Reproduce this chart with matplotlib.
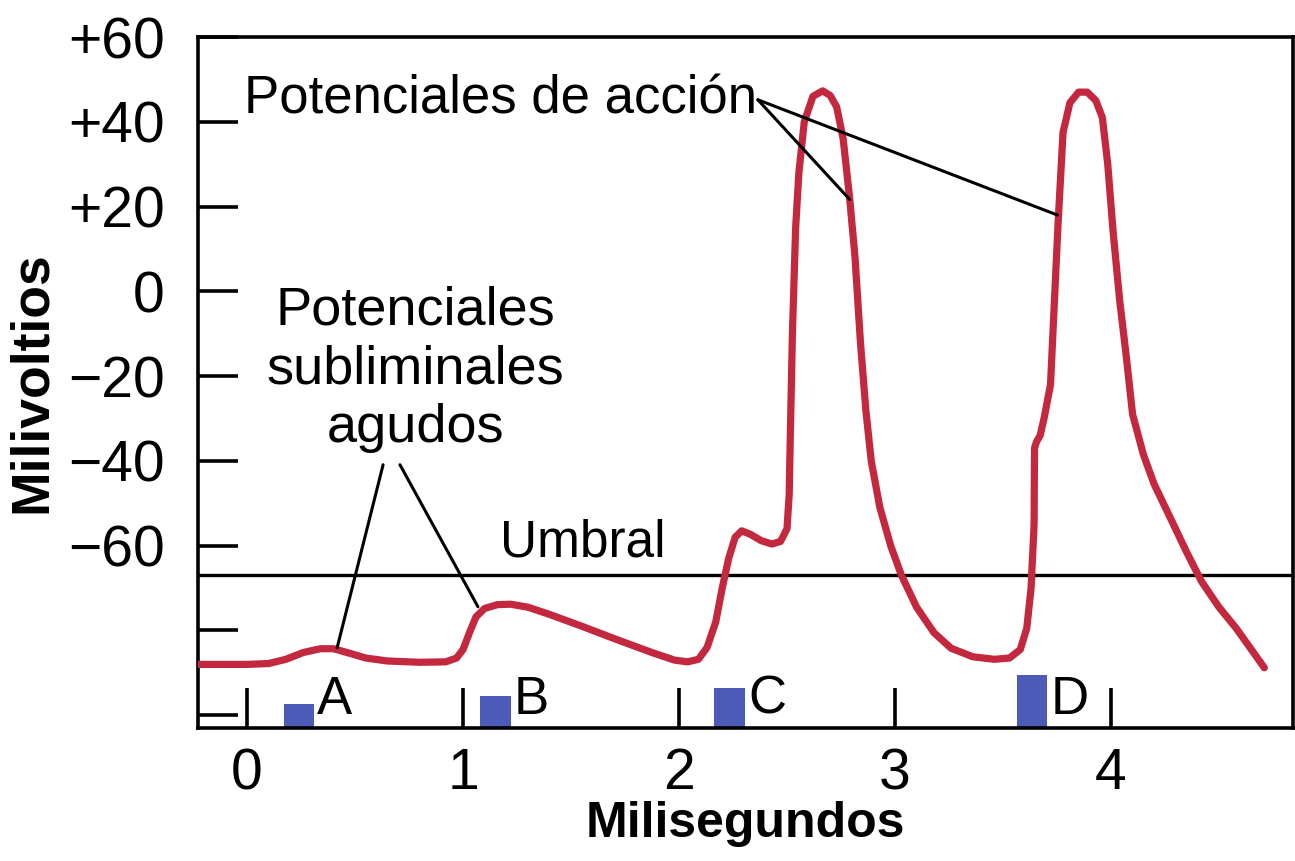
import matplotlib
matplotlib.use('Agg')
import matplotlib.pyplot as plt

# membrane potential trace (ms, mV)
t_ms = [-0.23, 0.00, 0.10, 0.18, 0.26, 0.34, 0.40, 0.47, 0.55, 0.65, 0.80,
        0.92, 0.97, 1.00, 1.03, 1.06, 1.10, 1.16, 1.22, 1.30, 1.40, 1.55,
        1.72, 1.88, 1.98, 2.04, 2.09, 2.13, 2.17, 2.20, 2.23, 2.26, 2.29,
        2.33, 2.38, 2.43, 2.47, 2.50, 2.51, 2.515, 2.525, 2.54, 2.555, 2.58,
        2.62, 2.665, 2.70, 2.73, 2.76, 2.79, 2.815, 2.84, 2.865, 2.89, 2.93,
        2.98, 3.03, 3.10, 3.18, 3.26, 3.36, 3.46, 3.53, 3.58, 3.61, 3.63,
        3.644, 3.646, 3.655, 3.672, 3.69, 3.72, 3.755, 3.778, 3.81, 3.85,
        3.89, 3.93, 3.96, 3.985, 4.01, 4.04, 4.07, 4.10, 4.15, 4.20, 4.28,
        4.35, 4.42, 4.50, 4.58, 4.65, 4.71]
v_mv = [-88.0, -88.0, -87.8, -86.8, -85.2, -84.3, -84.3, -85.3, -86.5, -87.2,
        -87.5, -87.4, -86.5, -84.5, -80.5, -76.8, -74.8, -73.9, -73.8, -74.5,
        -76.2, -79.0, -82.3, -85.3, -87.0, -87.4, -86.8, -84.0, -78.0, -70.0,
        -63.0, -58.0, -56.5, -57.3, -58.8, -59.6, -59.0, -56.0, -48.0, -35.0,
        -10.0, 15.0, 28.0, 40.0, 46.0, 47.3, 46.2, 43.5, 36.0, 22.0, 8.0,
        -12.0, -28.0, -40.0, -51.0, -60.0, -67.0, -74.5, -80.5, -84.2, -86.2,
        -86.8, -86.5, -84.5, -79.5, -70.0, -55.0, -37.0, -35.5, -34.0, -30.0,
        -22.0, 16.0, 37.5, 44.5, 47.0, 47.0, 45.0, 41.0, 30.0, 14.0, -2.0,
        -15.0, -29.0, -38.5, -45.5, -54.0, -61.5, -68.5, -74.5, -79.5, -84.5,
        -88.8]

THRESHOLD = -67.0

# stimuli A-D: start (ms), width (ms), top of bar (mV)
stim_names = ['A', 'B', 'C', 'D']
stim_start = [0.17, 1.08, 2.16, 3.565]
stim_width = [0.14, 0.14, 0.145, 0.14]
stim_top = [-97.4, -95.5, -93.5, -90.4]

yticks = [60, 40, 20, 0, -20, -40, -60, -80, -100]
ytick_labels = ['+60', '+40', '+20', '0', '\u221220', '\u221240', '\u221260', '', '']
xticks = [0, 1, 2, 3, 4]

XLIM = (-0.227, 4.843)
YLIM = (-103.0, 60.0)

RED = '#C3283F'
BLUE = '#4C5BB8'
FONT = 'Liberation Sans'


def main():
  plt.rcParams['font.family'] = [FONT, 'DejaVu Sans']
  fig = plt.figure(figsize=(12.95, 8.61), dpi=100)
  ax = fig.add_axes([0.1529, 0.1545, 0.8456, 0.8025])
  ax.set_xlim(*XLIM); ax.set_ylim(*YLIM)

  ax.axhline(THRESHOLD, color='black', lw=2.4, zorder=2)
  ax.plot(t_ms, v_mv, color=RED, lw=5.2, solid_joinstyle='round',
          solid_capstyle='round', zorder=3)

  for name, s, w, top in zip(stim_names, stim_start, stim_width, stim_top):
    ax.bar(s, top - YLIM[0], width=w, bottom=YLIM[0], align='edge',
           color=BLUE, lw=0, zorder=2)
    ax.text(s + w + 0.015, -99.6, name, fontsize=38, va='baseline', ha='left')

  ax.set_yticks(yticks, ytick_labels)
  ax.set_xticks(xticks, [str(x) for x in xticks])
  ax.tick_params(direction='in', length=29, width=2.6, labelsize=41)
  ax.tick_params(axis='y', pad=24)
  ax.tick_params(axis='x', pad=14)
  for sp in ax.spines.values():
    sp.set_linewidth(2.6)

  ax.set_xlabel('Milisegundos', fontsize=36, fontweight='bold', labelpad=0)
  ax.set_ylabel('Milivoltios', fontsize=38.5, fontweight='bold', labelpad=8)

  line_kw = dict(arrowstyle='-', color='black', lw=2.2, shrinkA=0, shrinkB=0)
  ax.text(2.36, 45.2, 'Potenciales de acción', fontsize=38,
          ha='right', va='center')
  for end in [(2.79, 21.7), (3.752, 18.0)]:
    ax.annotate('', xy=end, xytext=(2.365, 45.2), arrowprops=line_kw)

  ax.text(0.778, -18.4, 'Potenciales\nsubliminales\nagudos', fontsize=39,
          ha='center', va='center', linespacing=1.22)
  ax.annotate('', xy=(0.417, -84.1), xytext=(0.63, -40.9), arrowprops=line_kw)
  ax.annotate('', xy=(1.069, -74.4), xytext=(0.708, -40.9), arrowprops=line_kw)

  ax.text(1.555, -59.3, 'Umbral', fontsize=37, ha='center', va='center')

  fig.savefig('out.png', dpi=100)
  plt.close(fig)


if __name__ == '__main__':
  main()
